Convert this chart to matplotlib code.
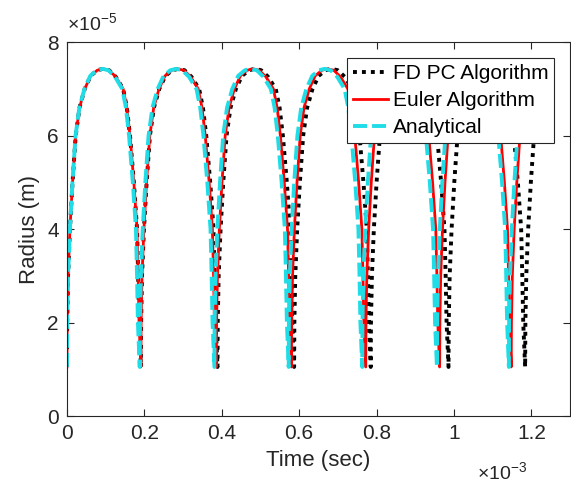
import numpy as np
import matplotlib
matplotlib.use('Agg')
import matplotlib.pyplot as plt

plt.rcParams['font.family'] = ['Liberation Sans', 'DejaVu Sans']
plt.rcParams['mathtext.fontset'] = 'custom'
plt.rcParams['mathtext.rm'] = 'Liberation Sans'

# one oscillation: fraction of the cycle vs radius (x1e-5 m)
arch_phase = [0.000, 0.003, 0.015, 0.040, 0.075, 0.118, 0.170, 0.240, 0.320, 0.410,
              0.490, 0.570, 0.660, 0.760, 0.810, 0.853, 0.905, 0.948, 0.963, 0.975, 1.000]
arch_radius = [1.05, 2.0, 3.0, 4.0, 5.0, 6.0, 6.6, 7.0, 7.28, 7.40,
               7.43, 7.40, 7.26, 7.0, 6.6, 6.0, 5.0, 4.0, 3.0, 2.0, 1.05]

# collapse times (x1e-3 s) read for each method, data hidden behind legend after ~1.25e-3 s
fd_collapse = [0, 0.191, 0.389, 0.587, 0.785, 0.986, 1.184, 1.38]
euler_collapse = [0, 0.191, 0.386, 0.580, 0.772, 0.963, 1.148, 1.34]
analytical_collapse = [0, 0.188, 0.381, 0.573, 0.763, 0.956, 1.142, 1.33]
t_end = 1.25

labels = ['FD PC Algorithm', 'Euler Algorithm', 'Analytical']


def build(collapse):
    t, r = [], []
    for a, b in zip(collapse[:-1], collapse[1:]):
        for p, rr in zip(arch_phase, arch_radius):
            t.append(a + p * (b - a))
            r.append(rr)
    t = np.array(t)
    r = np.array(r)
    keep = t <= t_end
    return t[keep] * 1e-3, r[keep] * 1e-5


fig = plt.figure(figsize=(5.71, 4.88), dpi=100)
ax = fig.add_axes([0.1173, 0.1475, 0.881, 0.766])

t1, r1 = build(fd_collapse)
t2, r2 = build(euler_collapse)
t3, r3 = build(analytical_collapse)
ax.plot(t1, r1, color='black', lw=2.8, linestyle=(0, (1, 1.3)), label=labels[0])
ax.plot(t2, r2, color='red', lw=2.0, linestyle='-', label=labels[1])
ax.plot(t3, r3, color='#1fdde6', lw=2.8, linestyle=(0, (3.6, 1.3)), label=labels[2])

ax.set_xlim(0, 1.3e-3)
ax.set_ylim(0, 8e-5)
ax.set_xticks(np.arange(0, 1.3e-3, 0.2e-3))
ax.set_xticklabels(['0', '0.2', '0.4', '0.6', '0.8', '1', '1.2'])
ax.set_yticks(np.arange(0, 8.1e-5, 2e-5))
ax.set_yticklabels(['0', '2', '4', '6', '8'])

dark = '#262626'
ax.tick_params(direction='in', top=True, right=True, length=5, width=0.8,
               labelsize=15, colors=dark, pad=6)
for s in ax.spines.values():
    s.set_color(dark)
    s.set_linewidth(0.8)

ax.set_xlabel('Time (sec)', fontsize=16, color=dark, labelpad=5)
ax.set_ylabel('Radius (m)', fontsize=16, color=dark, labelpad=5)

fig.text(0.117, 0.937, r'$\times10^{-5}$', fontsize=14, color=dark)
fig.text(0.835, 0.017, r'$\times10^{-3}$', fontsize=14, color=dark)

leg = ax.legend(loc='upper right', fontsize=15, frameon=True, fancybox=False,
                framealpha=1, edgecolor=dark, handlelength=1.7, handletextpad=0.2,
                labelspacing=0.38, borderpad=0.3, borderaxespad=0.75)
leg.get_frame().set_linewidth(0.8)

fig.savefig('out.png', dpi=100)
